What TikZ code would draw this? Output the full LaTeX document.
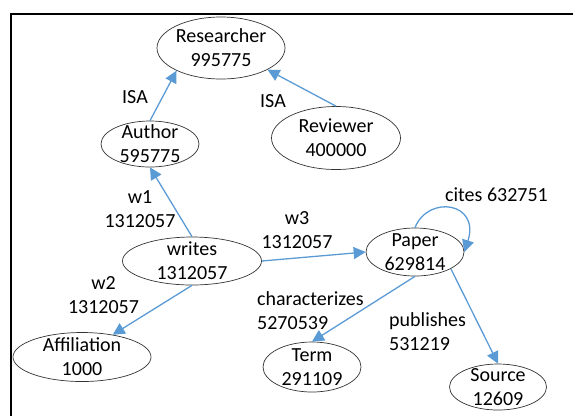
\documentclass[tikz,border=0pt]{standalone}
\usepackage{fontspec}
\setmainfont{Carlito}
\usetikzlibrary{shapes.geometric,arrows.meta,positioning}
\definecolor{edgeblue}{HTML}{5B9BD5}
\newcommand{\diafont}{\fontsize{20bp}{24bp}\selectfont}

\begin{document}
\begin{tikzpicture}[
  x=1bp, y=-1bp, on grid,
  ent/.style 2 args={ellipse, draw=black!80, line width=0.7bp, minimum width=#1, minimum height=#2, inner sep=-20bp, align=center, font=\diafont},
  lbl/.style={inner sep=1bp, align=center, font=\diafont},
  arr/.style={-{Triangle[length=12bp,width=12bp]}, draw=edgeblue, line width=1.3bp}
]
\useasboundingbox (0,0) rectangle (573,416);
\draw[line width=2bp] (11,416) -- (11,14) -- (573,14);

\node[ent={128bp}{62bp}] (res) at (221,48) {Researcher\\995775};
\node[ent={98bp}{46bp}, below left=96bp and 71bp of res] (aut) {Author\\595775};
\node[ent={129bp}{63bp}, below right=90bp and 115bp of res] (rev) {Reviewer\\400000};
\node[ent={139bp}{48bp}, below right=117bp and 42bp of aut] (wri) {writes\\1312057};
\node[ent={138bp}{49bp}, below left=96bp and 110bp of wri] (aff) {Affiliation\\1000};
\node[ent={98bp}{48bp}, above right=9bp and 223bp of wri] (pap) {Paper\\629814};
\node[ent={98bp}{50bp}, below left=115bp and 103bp of pap] (ter) {Term\\291109};
\node[ent={97bp}{46bp}, below right=135bp and 83bp of pap] (src) {Source\\12609};

% edge labels
\node[lbl] (isa1) at (135,97.5) {ISA};
\node[lbl] (isa2) at (273,101) {ISA};
\node[lbl] (w1) at (140,209.5) {w1\\1312057};
\node[lbl] (w2) at (103.5,295) {w2\\1312057};
\node[lbl] (w3) at (297,230) {w3\\1312057};
\node[lbl, align=left, anchor=west] (chr) at (256,311) {characterizes\\5270539};
\node[lbl, align=left, anchor=west] (pub) at (388,331.5) {publishes\\531219};
\node[lbl] (cit) at (496.5,195) {cites 632751};

\draw[arr] (aut.north) -- (res.207);
\draw[arr] (rev.north) -- (res.-25);
\draw[arr] (wri.north) -- (aut.south);
\draw[arr] (wri.south) -- (aff.36);
\draw[arr] (wri.east)  -- (pap.west);
\draw[arr] (pap.south) -- (ter.north);
\draw[arr] (pap.-25)   -- (src.north);
\draw[arr] (pap.north) .. controls +(13bp,33bp) and +(16bp,50bp) .. (pap.east);
\end{tikzpicture}
\end{document}
